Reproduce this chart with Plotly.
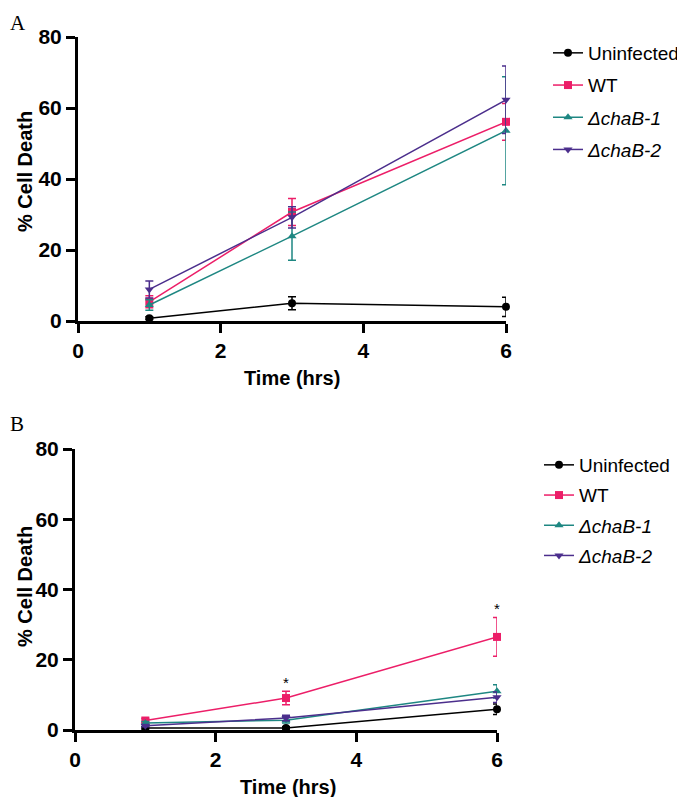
import plotly.graph_objects as go

time_hrs = [1, 3, 6]
series_names = ["Uninfected", "WT", "<i>ΔchaB-1</i>", "<i>ΔchaB-2</i>"]
series_colors = ["#000000", "#EC1E68", "#1E8782", "#4B2E8C"]
series_symbols = ["circle", "square", "triangle-up", "triangle-down"]

# Panel A: mean % cell death and SEM
a_uninfected = [0.8, 5.0, 4.0]
a_uninfected_err = [0.4, 1.8, 2.7]
a_wt = [5.4, 30.7, 56.1]
a_wt_err = [1.7, 3.8, 5.2]
a_chab1 = [4.5, 23.9, 53.6]
a_chab1_err = [1.5, 6.8, 15.2]
a_chab2 = [8.9, 29.2, 62.3]
a_chab2_err = [2.4, 3.0, 9.5]

# Panel B
b_uninfected = [0.6, 0.6, 5.9]
b_uninfected_err = [0.3, 0.3, 1.5]
b_wt = [2.7, 9.1, 26.5]
b_wt_err = [0.6, 1.9, 5.5]
b_chab1 = [2.0, 2.8, 11.0]
b_chab1_err = [0.4, 0.8, 1.9]
b_chab2 = [1.2, 3.4, 9.3]
b_chab2_err = [0.3, 0.8, 1.5]

b_star_x = [3, 6]

x_ticks = [0, 2, 4, 6]
y_ticks = [0, 20, 40, 60, 80]

# page body has an 8px margin; size the figure to fit the 685x797 window
OFF = 8
W, H = 685 - OFF, 797 - OFF


def px(x):
    return (x - OFF) / W


def py(y):
    return 1 - (y - OFF) / H


fig = go.Figure()

panels = [
    ("x", "y", "legend", [a_uninfected, a_wt, a_chab1, a_chab2],
     [a_uninfected_err, a_wt_err, a_chab1_err, a_chab2_err]),
    ("x2", "y2", "legend2", [b_uninfected, b_wt, b_chab1, b_chab2],
     [b_uninfected_err, b_wt_err, b_chab1_err, b_chab2_err]),
]

for xa, ya, lg, vals, errs in panels:
    for i in range(4):
        fig.add_trace(go.Scatter(
            x=time_hrs, y=vals[i], xaxis=xa, yaxis=ya, legend=lg,
            name=series_names[i], legendgroup=lg + str(i),
            mode="lines+markers",
            line=dict(color=series_colors[i], width=1.5),
            marker=dict(color=series_colors[i], symbol=series_symbols[i], size=8),
            error_y=dict(type="data", array=errs[i], visible=True,
                         color=series_colors[i], thickness=1.5, width=4),
            cliponaxis=False,
        ))

# significance stars above WT in panel B
for xs in b_star_x:
    idx = time_hrs.index(xs)
    fig.add_annotation(x=xs, y=b_wt[idx] + b_wt_err[idx], xref="x2", yref="y2",
                       text="*", showarrow=False, yshift=9,
                       font=dict(size=15, color="#000000", family="Liberation Sans"))

axis_common = dict(
    showline=True, linecolor="#000000", linewidth=3,
    ticks="outside", ticklen=9, tickwidth=3, tickcolor="#000000",
    showgrid=False, zeroline=False, automargin=False,
    tickfont=dict(family="Liberation Sans", size=21, color="#000000", weight="bold"),
)
title_font = dict(family="Liberation Sans", size=20, color="#000000", weight="bold")

fig.update_layout(
    width=W, height=H,
    margin=dict(l=0, r=0, t=0, b=0, autoexpand=False),
    paper_bgcolor="white", plot_bgcolor="white",
    showlegend=True,
    xaxis=dict(axis_common, domain=[px(78), px(506)], range=[0, 6], tickvals=x_ticks, anchor="y"),
    yaxis=dict(axis_common, domain=[py(321), py(37)], range=[0, 80], tickvals=y_ticks, anchor="x"),
    xaxis2=dict(axis_common, domain=[px(75), px(497)], range=[0, 6], tickvals=x_ticks, anchor="y2"),
    yaxis2=dict(axis_common, domain=[py(730), py(449)], range=[0, 80], tickvals=y_ticks, anchor="x2"),
    legend=dict(x=px(593 - 45), y=py(34), xanchor="left", yanchor="top",
                font=dict(family="Liberation Sans", size=19, color="#000000"),
                tracegroupgap=4.5, bgcolor="rgba(0,0,0,0)"),
    legend2=dict(x=px(584 - 45), y=py(446), xanchor="left", yanchor="top",
                 font=dict(family="Liberation Sans", size=19, color="#000000"),
                 tracegroupgap=2.5, bgcolor="rgba(0,0,0,0)"),
)

# axis titles
for (tx, ty, txt, ang) in [
    (292, 378, "Time (hrs)", 0),
    (25, 172, "% Cell Death", -90),
    (288, 787, "Time (hrs)", 0),
    (25, 587, "% Cell Death", -90),
]:
    fig.add_annotation(x=px(tx), y=py(ty), xref="paper", yref="paper", text=txt,
                       showarrow=False, xanchor="center", yanchor="middle", textangle=ang,
                       font=title_font)

fig.add_annotation(x=px(8), y=py(9), xref="paper", yref="paper", text="A",
                   showarrow=False, xanchor="left", yanchor="top",
                   font=dict(family="Liberation Serif", size=21, color="#000000"))
fig.add_annotation(x=px(8), y=py(424), xref="paper", yref="paper", text="B",
                   showarrow=False, xanchor="left", yanchor="middle",
                   font=dict(family="Liberation Serif", size=21, color="#000000"))

fig.write_html("out.html")
